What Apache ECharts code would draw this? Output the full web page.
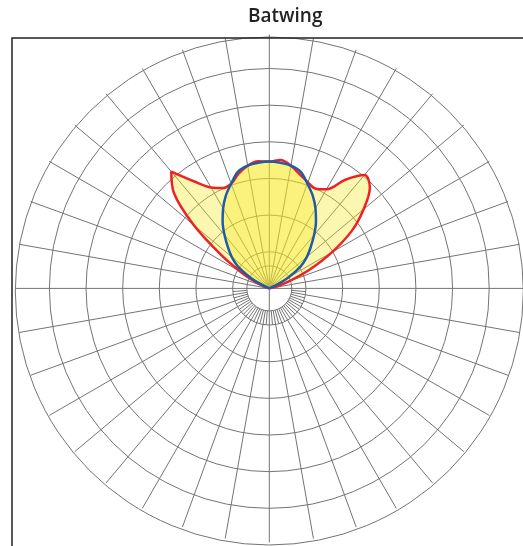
<!DOCTYPE html>
<html>
<head>
<meta charset="utf-8">
<script src="https://cdn.jsdelivr.net/npm/echarts@6/dist/echarts.min.js"></script>
<style>
  html, body { margin: 0; padding: 0; background: #ffffff; }
  #chart { width: 523px; height: 546px; }
</style>
</head>
<body>
<div id="chart"></div>
<script>
// angles measured from straight up, positive to the right (degrees)
const angles = [-90, -85, -80, -75, -70, -65, -60, -55, -50, -45, -40, -35, -30, -25, -20, -15, -10, -5,
  0, 5, 10, 15, 20, 25, 30, 35, 40, 45, 50, 55, 60, 65, 70, 75, 80, 85, 90]
// intensity, one grid ring = 50
const batwing = [0, 0, 0, 0, 7, 21, 45, 82, 135, 184, 208, 178, 159, 151, 152, 162, 170, 174,
  173, 176, 170, 161, 154, 150, 156, 181, 202, 194, 168, 138, 99, 61, 30, 11, 0, 0, 0]
const narrow = [0, 0, 0, 0, 0, 8, 30, 52, 67, 80, 95, 111, 126, 140, 152, 165, 170, 172,
  173, 172, 170, 165, 152, 140, 126, 111, 95, 80, 67, 52, 30, 8, 0, 0, 0, 0, 0]
// grid spokes, clockwise from the top
const spokes10 = []
for (let a = 0; a < 360; a += 10) spokes10.push(a)
const spokes5 = []
for (let a = 0; a < 360; a += 5) spokes5.push(a)

const center = [269.3, 288.4]
const ringR = 36.65 // one ring of 50
const spokeR = 254
const holeR = 22.5

const gridColor = '#747474'
const gridLine = { color: gridColor, width: 1 }

// upper half + vertical down go to the centre, the rest stop at the hole
const isUpper = a => a <= 90 || a >= 270 || a === 180
const isLower = a => a > 90 && a < 270 && a !== 180
const isLowerFine = a => a > 90 && a < 270 && a % 10 !== 0

const hidden = { axisLine: { show: false }, axisLabel: { show: false }, axisTick: { show: false } }

function spokeAxis (idx, cats, show) {
  const fn = (i) => show(cats[i])
  return {
    polarIndex: idx,
    type: 'category',
    data: cats,
    boundaryGap: false,
    axisLine: { show: false },
    axisLabel: { show: false },
    axisTick: { show: false, interval: fn },
    splitLine: { show: true, interval: fn, lineStyle: gridLine }
  }
}

function fullAngle (idx, extra) {
  return Object.assign({ polarIndex: idx, type: 'value', min: 0, max: 360, splitLine: { show: false } }, hidden, extra || {})
}

function circleAxis (idx) {
  return Object.assign({ polarIndex: idx, type: 'value', min: 0, max: 1, interval: 1, splitLine: { show: true, lineStyle: gridLine } }, hidden)
}

const chart = echarts.init(document.getElementById('chart'))
chart.setOption({
  backgroundColor: '#ffffff',
  animation: false,
  title: {
    text: 'Batwing',
    left: 243,
    top: 2,
    textStyle: {
      fontFamily: 'Open Sans',
      fontWeight: 600,
      fontSize: 19,
      color: '#222222'
    }
  },
  graphic: [{
    type: 'rect',
    shape: { x: 12, y: 38, width: 540, height: 540 },
    style: { fill: null, stroke: '#222222', lineWidth: 1.5 },
    silent: true,
    z: 100
  }],
  polar: [
    { center: center, radius: [0, spokeR] },
    { center: center, radius: [holeR, spokeR] },
    { center: center, radius: [holeR, ringR] },
    { center: center, radius: [0, ringR * 6] },
    { center: center, radius: [0, holeR] },
    { center: [269.3, 291], radius: [0, 254] }
  ],
  angleAxis: [
    spokeAxis(0, spokes10, isUpper),
    spokeAxis(1, spokes10, isLower),
    spokeAxis(2, spokes5, isLowerFine),
    fullAngle(3, { min: -180, max: 180, startAngle: 270, clockwise: true }),
    fullAngle(4),
    fullAngle(5)
  ],
  radiusAxis: [
    Object.assign({ polarIndex: 0, type: 'value', min: 0, max: 1, splitLine: { show: false } }, hidden),
    Object.assign({ polarIndex: 1, type: 'value', min: 0, max: 1, splitLine: { show: false } }, hidden),
    Object.assign({ polarIndex: 2, type: 'value', min: 0, max: 1, splitLine: { show: false } }, hidden),
    Object.assign({
      polarIndex: 3,
      type: 'value',
      min: 0,
      max: 300,
      interval: 50,
      splitLine: { show: true, lineStyle: gridLine }
    }, hidden),
    circleAxis(4),
    circleAxis(5)
  ],
  series: [
    {
      name: 'Batwing',
      type: 'line',
      coordinateSystem: 'polar',
      polarIndex: 3,
      smooth: 0.35,
      showSymbol: false,
      lineStyle: { color: '#ec2227', width: 2.5 },
      areaStyle: { color: 'rgba(246, 232, 30, 0.5)' },
      data: angles.map((a, i) => [batwing[i], a])
    },
    {
      name: 'Narrow',
      type: 'line',
      coordinateSystem: 'polar',
      polarIndex: 3,
      smooth: 0.35,
      showSymbol: false,
      lineStyle: { color: '#1f5ca8', width: 2.5 },
      areaStyle: { color: 'rgba(246, 232, 30, 0.5)' },
      data: angles.map((a, i) => [narrow[i], a])
    }
  ]
})
</script>
</body>
</html>
